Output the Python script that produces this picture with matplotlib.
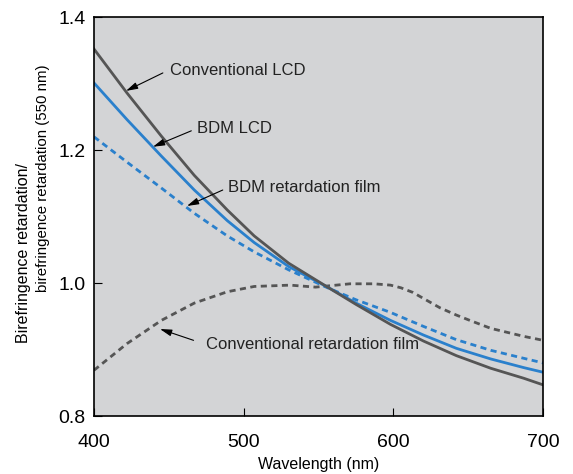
import matplotlib
matplotlib.use("Agg")
import matplotlib.pyplot as plt

plt.rcParams['font.family'] = ['Liberation Sans', 'DejaVu Sans']

# values
wl_conv_lcd = [400, 422, 445, 467, 489, 507, 530, 556, 575, 598, 620, 642, 665, 687, 700]
conv_lcd = [1.352, 1.286, 1.221, 1.162, 1.110, 1.071, 1.030, 0.994, 0.968, 0.938, 0.913, 0.891, 0.872, 0.857, 0.847]

wl_bdm_lcd = [400, 422, 445, 467, 489, 507, 530, 556, 575, 598, 620, 642, 665, 687, 700]
bdm_lcd = [1.301, 1.246, 1.191, 1.140, 1.094, 1.061, 1.025, 0.994, 0.970, 0.944, 0.922, 0.902, 0.886, 0.873, 0.866]

wl_bdm_film = [400, 422, 445, 467, 489, 507, 530, 556, 575, 598, 620, 642, 665, 687, 700]
bdm_film = [1.220, 1.182, 1.143, 1.105, 1.071, 1.047, 1.020, 0.993, 0.975, 0.956, 0.935, 0.915, 0.899, 0.887, 0.880]

wl_conv_film = [400, 422, 445, 467, 489, 507, 531, 548, 571, 587, 598, 605, 613, 620, 631, 642, 651, 665, 687, 700]
conv_film = [0.869, 0.909, 0.944, 0.970, 0.987, 0.995, 0.997, 0.994, 0.999, 0.999, 0.997, 0.993, 0.986, 0.977,
             0.963, 0.952, 0.944, 0.932, 0.920, 0.914]

dark = "#555555"
blue = "#2a80cc"

fig = plt.figure(figsize=(5.73, 4.74), dpi=100)
ax = fig.add_axes([0.164, 0.122, 0.784, 0.842])
ax.set_facecolor("#d3d4d6")

ax.plot(wl_conv_film, conv_film, color=dark, lw=2, ls=(0, (2.2, 1.6)))
ax.plot(wl_bdm_film, bdm_film, color=blue, lw=2, ls=(0, (2.2, 1.6)))
ax.plot(wl_bdm_lcd, bdm_lcd, color=blue, lw=2)
ax.plot(wl_conv_lcd, conv_lcd, color=dark, lw=2)

ax.set_xlim(400, 700)
ax.set_ylim(0.8, 1.4)
ax.set_xticks([400, 500, 600, 700])
ax.set_yticks([0.8, 1.0, 1.2, 1.4])
ax.set_yticklabels(["0.8", "1.0", "1.2", "1.4"])
ax.tick_params(direction="in", length=6, labelsize=14, width=0.8)
ax.tick_params(axis="x", pad=13)
ax.tick_params(axis="y", pad=6)
for s in ax.spines.values():
    s.set_linewidth(1.2)

ax.set_xlabel("Wavelength (nm)", fontsize=11.5, labelpad=4)
fig.text(24 / 573, 1 - 253 / 474, "Birefringence retardation/", rotation=90,
         fontsize=11.5, ha="center", va="center")
fig.text(43 / 573, 1 - 178 / 474, "birefringence retardation (550 nm)", rotation=90,
         fontsize=10.8, ha="center", va="center")

# labels with arrows (text pos, arrow tail, arrow head)
notes = [
    ("Conventional LCD", (450.5, 1.320), (446.0, 1.316), (421.4, 1.289)),
    ("BDM LCD", (469.0, 1.233), (465.0, 1.229), (439.4, 1.205)),
    ("BDM retardation film", (489.5, 1.144), (486.0, 1.140), (462.1, 1.116)),
    ("Conventional retardation film", (474.5, 0.907), (466.5, 0.914), (444.1, 0.931)),
]
for txt, tpos, tail, head in notes:
    ax.text(tpos[0], tpos[1], txt, fontsize=12, color="#222222", ha="left", va="center")
    ax.annotate("", xy=head, xytext=tail,
                arrowprops=dict(arrowstyle="-|>,head_length=0.7,head_width=0.2",
                                color="black", lw=0.8, shrinkA=0, shrinkB=0))

fig.savefig("out.png", dpi=100)
